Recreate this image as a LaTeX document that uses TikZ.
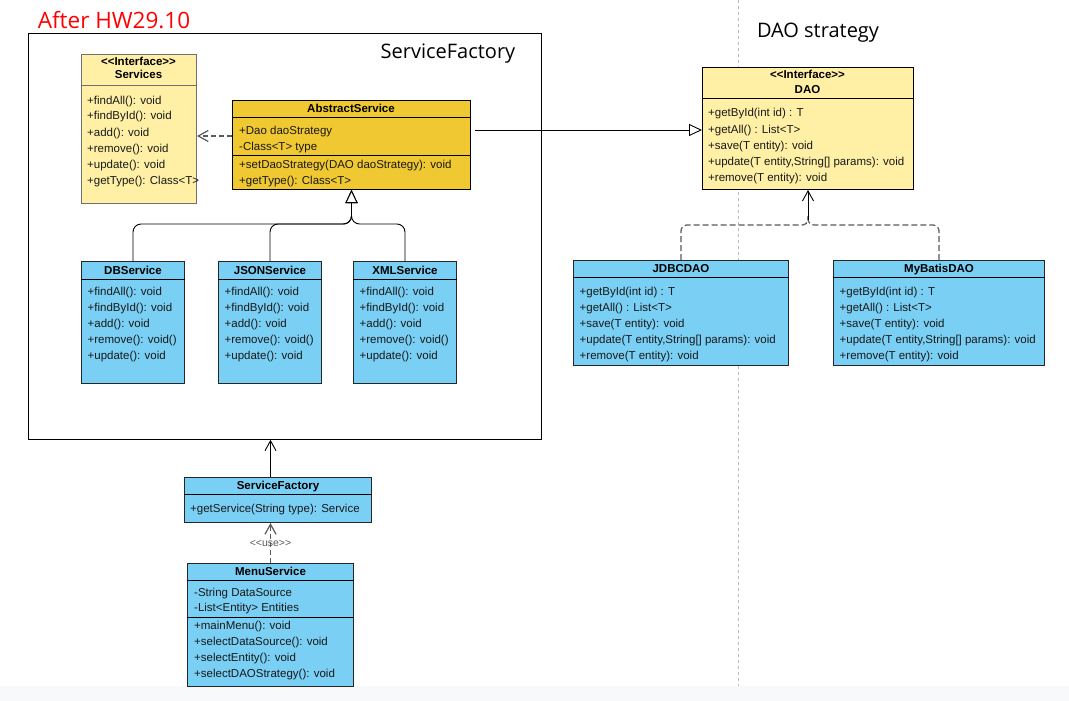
\documentclass[tikz,border=0pt]{standalone}
\usepackage{fontspec}
\setmainfont{Liberation Sans}
\newfontfamily\titlefont{Open Sans}
\usetikzlibrary{arrows.meta}

\definecolor{lightyel}{HTML}{FFF0A5}
\definecolor{boxgray}{HTML}{707070}
\definecolor{darkyel}{HTML}{F0C832}
\definecolor{classblue}{HTML}{7ACFF4}
\definecolor{dashgray}{HTML}{5A5A5A}
\definecolor{stripgray}{HTML}{F8F9FA}

\tikzset{
  classbox/.style={draw, line width=1pt, inner sep=0pt, anchor=north west},
  yelbox/.style={classbox, fill=lightyel, draw=boxgray},
  goldbox/.style={classbox, fill=darkyel},
  bluebox/.style={classbox, fill=classblue, draw=black!85},
  head/.style={font=\bfseries\fontsize{11.5}{14}\selectfont, anchor=base, inner sep=0pt},
  item/.style={font=\fontsize{11.5}{14}\selectfont, anchor=base west, inner sep=0pt, text=black!90},
  sep/.style={line width=1pt},
  link/.style={line width=0.9pt},
  dashlink/.style={line width=1.2pt, dashgray, dash pattern=on 6pt off 3pt},
  openv/.style={-{Straight Barb[length=10pt,width=11pt]}},
  opentri/.style={-{Triangle[open,length=13pt,width=12pt,fill=white]}},
  bigtitle/.style={font=\titlefont\fontsize{20}{24}\selectfont, inner sep=0pt},
}

\begin{document}
\begin{tikzpicture}[x=1pt, y=-1pt]
  \useasboundingbox (0,0) rectangle (1069,701);
  \fill[white] (0,0) rectangle (1069,701);
  \fill[stripgray] (0,686) rectangle (1069,701);
  \draw[gray!55, line width=0.8pt, dash pattern=on 3pt off 3pt] (738,0) -- (738,686);

  % titles
  \node[bigtitle, text=red, font=\titlefont\fontsize{22.5}{26}\selectfont] (hw) at (114,20) {After HW29.10};
  \node[draw, line width=0.8pt, inner sep=0pt, anchor=north west,
        minimum width=513pt, minimum height=406pt] (cont) at (28,33) {};
  \node[bigtitle] (cont-title) at (448,54) {ServiceFactory};
  \node[bigtitle] (dao-title) at (818,33) {DAO strategy};

  % Services interface
  \node[yelbox, minimum width=115pt, minimum height=149pt] (services) at (81,54) {};
  \draw[sep, boxgray] (services.west |- 0,86) -- (services.east |- 0,86);
  \node[head] (services-st) at (138.5,66) {<{}<Interface>{}>};
  \node[head] (services-name) at (138.5,79) {Services};
  \foreach \entry [count=\i] in {+findAll(): void, +findById(): void, +add(): void,
      +remove(): void, +update(): void, +getType(): Class<T>}
    \node[item] (services-\i) at (87,{88+16*\i}) {\entry};

  % AbstractService
  \node[goldbox, minimum width=238pt, minimum height=89pt] (abs) at (232,100) {};
  \draw[sep] (abs.west |- 0,117) -- (abs.east |- 0,117);
  \draw[sep] (abs.west |- 0,155) -- (abs.east |- 0,155);
  \node[head] (abs-name) at (351,112) {AbstractService};
  \foreach \entry [count=\i] in {+Dao daoStrategy, -Class<T> type}
    \node[item] (abs-a\i) at (239,{118+16*\i}) {\entry};
  \foreach \entry [count=\i] in {+setDaoStrategy(DAO daoStrategy): void, +getType(): Class<T>}
    \node[item] (abs-m\i) at (239,{152+16*\i}) {\entry};

  % DAO interface
  \node[yelbox, draw=black, minimum width=211pt, minimum height=122pt] (dao) at (702,67) {};
  \draw[sep] (dao.west |- 0,99) -- (dao.east |- 0,99);
  \node[head] (dao-st) at (807.5,79) {<{}<Interface>{}>};
  \node[head] (dao-name) at (807.5,93) {DAO};
  \foreach \entry [count=\i] in {+getById(int id) : T, +getAll() : List<T>, +save(T entity): void,
      {+update(T entity,String[] params): void}, +remove(T entity): void}
    \node[item] (dao-\i) at (708,{101+16*\i}) {\entry};

  % services
  \foreach \c/\name/\x in {db/DBService/81, json/JSONService/218, xml/XMLService/353} {
    \node[bluebox, minimum width=103pt, minimum height=122pt] (\c) at (\x,261) {};
    \draw[sep] (\c.west |- 0,279) -- (\c.east |- 0,279);
    \node[head] (\c-name) at (\c.north |- 0,274) {\name};
    \foreach \entry [count=\i] in {+findAll(): void, +findById(): void, +add(): void,
        +remove(): void(), +update(): void}
      \node[item] (\c-\i) at ({\x+6.5},{279+16*\i}) {\entry};
  }

  % DAO implementations
  \foreach \c/\name/\x/\w in {jdbc/JDBCDAO/573/215, mybatis/MyBatisDAO/833/211} {
    \node[bluebox, minimum width=\w pt, minimum height=105pt] (\c) at (\x,260) {};
    \draw[sep] (\c.west |- 0,277) -- (\c.east |- 0,277);
    \node[head] (\c-name) at (\c.north |- 0,272) {\name};
    \foreach \entry [count=\i] in {+getById(int id) : T, +getAll() : List<T>, +save(T entity): void,
        {+update(T entity,String[] params): void}, +remove(T entity): void}
      \node[item] (\c-\i) at ({\x+6.5},{279+16*\i}) {\entry};
  }

  % ServiceFactory class
  \node[bluebox, minimum width=187pt, minimum height=45pt] (sf) at (184,477) {};
  \draw[sep] (sf.west |- 0,494) -- (sf.east |- 0,494);
  \node[head] (sf-name) at (sf.north |- 0,489) {ServiceFactory};
  \node[item] (sf-1) at (190,512) {+getService(String type): Service};

  % MenuService
  \node[bluebox, minimum width=166pt, minimum height=123pt] (menu) at (187,563) {};
  \draw[sep] (menu.west |- 0,580) -- (menu.east |- 0,580);
  \draw[sep] (menu.west |- 0,617) -- (menu.east |- 0,617);
  \node[head] (menu-name) at (menu.north |- 0,575) {MenuService};
  \foreach \entry [count=\i] in {-String DataSource, -List<Entity> Entities}
    \node[item] (menu-a\i) at (194,{581+15*\i}) {\entry};
  \foreach \entry [count=\i] in {+mainMenu(): void, +selectDataSource(): void,
      +selectEntity(): void, +selectDAOStrategy(): void}
    \node[item] (menu-m\i) at (194,{613+16*\i}) {\entry};

  % connectors
  \draw[dashlink, dash pattern=on 5pt off 3pt, openv]
    (abs.west |- 0,136) -- (services.east |- 0,136);
  \draw[link, opentri, shorten <=4pt] (abs.east |- 0,130) -- (dao.west |- 0,130);
  \foreach \c in {db,json,xml}
    \draw[link, opentri, rounded corners=8pt] (\c.north) |- (abs.south |- 0,224) -- (abs.south);
  \foreach \c in {jdbc,mybatis}
    \draw[dashlink, rounded corners=6pt]
      (\c.north) |- (dao.south |- 0,225) -- (dao.south |- 0,216);
  \draw[link, openv] (dao.south |- 0,220) -- (dao.south);
  \draw[link, openv] (sf.north -| menu.north) -- (menu.north |- cont.south);
  \draw[dashlink, dash pattern=on 5pt off 3pt, openv] (menu.north) --
    node[font=\fontsize{10.5}{12}\selectfont, text=dashgray, inner sep=0pt] (uselbl) {<{}<use>{}>}
    (menu.north |- sf.south);
\end{tikzpicture}
\end{document}
